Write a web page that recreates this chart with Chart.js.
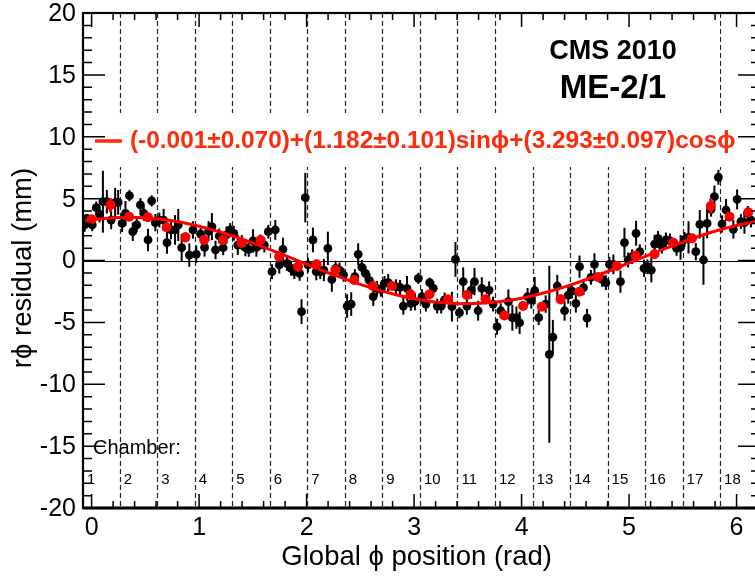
<!DOCTYPE html>
<html>
<head>
<meta charset="utf-8">
<script src="https://cdn.jsdelivr.net/npm/chart.js@4.4.1/dist/chart.umd.min.js"></script>
<style>
  html, body { margin: 0; padding: 0; background: #fff; overflow: hidden; }
  canvas { display: block; }
</style>
</head>
<body>
<canvas id="chart" width="765" height="577"></canvas>
<script>
// ===== ME-2/1 r-phi residuals vs global phi =====

// per-bin residuals (black)
const blackX = [-0.065, -0.044, 0.006, 0.043, 0.074, 0.105, 0.142, 0.182, 0.219, 0.247, 0.284, 0.315, 0.352, 0.383, 0.42, 0.454, 0.485, 0.525, 0.559, 0.593,
  0.63, 0.67, 0.701, 0.739, 0.776, 0.806, 0.838, 0.909, 0.943, 0.974, 1.014, 1.051, 1.088, 1.119, 1.153, 1.187, 1.224, 1.255, 1.289, 1.323,
  1.36, 1.397, 1.431, 1.462, 1.502, 1.533, 1.57, 1.607, 1.644, 1.678, 1.709, 1.746, 1.78, 1.817, 1.855, 1.886, 1.935, 1.953, 1.988, 2.013,
  2.059, 2.09, 2.127, 2.161, 2.198, 2.235, 2.27, 2.306, 2.344, 2.377, 2.415, 2.449, 2.48, 2.514, 2.548, 2.585, 2.62, 2.656, 2.691, 2.725,
  2.759, 2.831, 2.869, 2.9, 2.934, 2.97, 3.008, 3.04, 3.073, 3.11, 3.145, 3.179, 3.215, 3.252, 3.284, 3.352, 3.385, 3.422, 3.457, 3.491,
  3.531, 3.562, 3.596, 3.63, 3.698, 3.735, 3.772, 3.806, 3.877, 3.914, 3.952, 3.982, 4.056, 4.09, 4.122, 4.159, 4.224, 4.258, 4.291, 4.332,
  4.4, 4.434, 4.468, 4.505, 4.539, 4.576, 4.609, 4.645, 4.678, 4.749, 4.784, 4.817, 4.854, 4.92, 4.957, 4.991, 5.028, 5.065, 5.1, 5.139,
  5.17, 5.207, 5.238, 5.269, 5.306, 5.343, 5.38, 5.442, 5.479, 5.516, 5.553, 5.621, 5.658, 5.692, 5.726, 5.763, 5.794, 5.831, 5.865, 5.902,
  5.97, 6.005, 6.04, 6.073, 6.104, 6.135];
const blackY = [2.87, 3.41, 2.87, 4.27, 3.73, 4.75, 4.75, 3.27, 4.67, 4.7, 3.0, 3.81, 5.24, 2.33, 2.87, 4.49, 3.81, 1.66, 4.81, 3.06,
  3.27, 3.27, 1.44, 2.47, 2.47, 2.87, 1.04, 0.44, 2.47, 0.5, 2.14, 1.06, 2.38, 2.74, 0.85, 1.98, 1.03, 2.06, 2.47, 2.2,
  1.25, 1.45, 1.04, 0.9, 1.58, 1.06, 1.5, 1.25, 2.33, -0.9, 2.47, -0.36, 0.9, -0.23, -0.63, -0.9, -1.04, -4.14, 5.08, -0.36,
  1.66, -0.9, -0.9, -0.77, 0.98, -1.53, -0.63, -0.77, -1.17, -3.68, -3.52, -1.3, 0.5, -0.55, -1.04, -1.63, -2.92, -2.25, -2.33, -1.85,
  -1.79, -2.12, -2.17, -3.68, -2.25, -3.46, -3.33, -1.44, -2.92, -3.52, -1.79, -2.25, -3.68, -3.68, -3.19, -3.73, 0.09, -4.22, -1.71, -3.68,
  -2.39, -1.71, -4.06, -2.25, -2.39, -3.52, -5.35, -4.06, -3.33, -4.62, -4.62, -5.03, -2.92, -3.19, -2.44, -4.62, -3.52, -7.58, -6.2, -2.06,
  -4.06, -2.79, -2.47, -3.46, -0.5, -2.2, -4.66, -1.36, -0.31, -1.52, -1.79, -0.31, -0.31, -1.71, 1.44, 0.04, 0.31, 2.2, 0.71, -0.63,
  -0.5, -0.77, 1.33, 1.79, 1.17, 1.66, 1.58, 0.98, 1.06, 1.71, 1.87, 0.71, 2.92, 0.04, 3.0, 4.14, 5.16, 6.72, 2.95, 4.08,
  2.52, 4.94, 3.14, 3.06, 3.81, 3.27];
const blackErr = [0.55, 0.35, 0.5, 0.5, 0.65, 2.5, 0.95, 0.75, 1.2, 1.0, 0.7, 1.0, 0.45, 0.75, 0.55, 0.55, 0.6, 0.9, 0.45, 0.7,
  0.6, 0.9, 0.9, 0.75, 1.2, 1.3, 1.1, 0.95, 0.7, 0.7, 0.5, 0.75, 0.8, 1.1, 0.75, 0.6, 0.6, 0.7, 0.55, 0.6,
  0.8, 0.6, 0.7, 0.6, 0.95, 0.75, 0.6, 0.6, 0.55, 0.6, 0.8, 0.7, 0.95, 0.6, 0.6, 0.6, 0.6, 1.0, 2.0, 0.6,
  1.0, 0.7, 0.6, 0.9, 1.35, 1.0, 0.6, 0.6, 0.55, 0.95, 0.95, 0.6, 0.9, 0.6, 0.6, 0.6, 0.75, 0.6, 0.6, 0.6,
  0.7, 0.6, 0.6, 0.7, 1.0, 0.6, 0.7, 0.45, 0.6, 0.6, 0.4, 0.6, 0.6, 0.6, 0.6, 1.2, 1.4, 0.45, 1.15, 0.7,
  0.7, 1.1, 0.8, 0.9, 0.7, 0.6, 0.65, 0.6, 1.0, 1.05, 0.9, 0.9, 0.7, 0.7, 1.1, 0.6, 0.7, 7.15, 1.4, 0.9,
  0.8, 0.7, 0.6, 0.75, 0.9, 0.6, 0.75, 0.6, 0.9, 0.6, 0.6, 0.6, 0.8, 0.9, 1.2, 0.6, 0.6, 1.0, 0.6, 0.7,
  0.6, 1.0, 0.75, 0.6, 0.6, 0.6, 0.6, 0.6, 1.0, 0.6, 1.3, 0.7, 1.15, 2.0, 1.2, 0.6, 0.9, 0.6, 0.7, 0.9,
  0.75, 0.8, 0.6, 0.9, 0.6, 0.6];

// averaged residuals (red)
const redX = [0.0, 0.175, 0.349, 0.524, 0.698, 0.873, 1.047, 1.222, 1.396, 1.571, 1.745, 1.92, 2.094, 2.269, 2.443, 2.618, 2.793, 2.967,
  3.142, 3.316, 3.491, 3.665, 3.84, 4.014, 4.189, 4.363, 4.538, 4.712, 4.887, 5.061, 5.236, 5.411, 5.585, 5.76, 5.934, 6.109];
const redY = [3.33, 4.49, 3.54, 3.49, 2.68, 1.87, 1.66, 1.66, 1.42, 1.66, 0.31, -0.5, -0.31, -0.77, -1.58, -2.06, -2.06, -2.74,
  -2.74, -3.14, -2.79, -3.14, -4.44, -3.68, -3.73, -3.14, -2.52, -1.33, -0.44, 0.39, 0.5, 1.44, 1.79, 4.41, 3.54, 3.89];
const redErr = [0.3, 0.55, 0.3, 0.3, 0.35, 0.4, 0.35, 0.3, 0.3, 0.3, 0.35, 0.3, 0.3, 0.35, 0.3, 0.3, 0.3, 0.35,
  0.3, 0.35, 0.35, 0.35, 0.35, 0.3, 0.35, 0.4, 0.35, 0.3, 0.35, 0.3, 0.35, 0.3, 0.35, 0.6, 0.35, 0.35];

// fit curve
const fitX = [-0.06, 0, 0.25, 0.5, 0.75, 1.0, 1.25, 1.5, 1.75, 2.0, 2.25, 2.5, 2.75, 3.0, 3.25, 3.5, 3.75, 4.0, 4.25, 4.5, 4.75,
  5.0, 5.25, 5.5, 5.75, 6.0, 6.25];
const fitY = [3.22, 3.29, 3.48, 3.46, 3.22, 2.77, 2.16, 1.41, 0.58, -0.30, -1.15, -1.93, -2.59, -3.09, -3.40, -3.50, -3.38, -3.05, -2.53, -1.85, -1.06,
  -0.20, 0.67, 1.50, 2.24, 2.83, 3.25];
const fitLabel = '(-0.001\u00b10.070)+(1.182\u00b10.101)sin\u03d5+(3.293\u00b10.097)cos\u03d5';

// chamber boundaries (left edge of each chamber, rad)
const chamberEdges = [-0.262, 0.262, 0.611, 0.960, 1.309, 1.658, 2.007, 2.356, 2.705, 3.054, 3.403, 3.752, 4.102, 4.451, 4.800, 5.149, 5.498, 5.847];
const chamberNames = ['1', '2', '3', '4', '5', '6', '7', '8', '9', '10', '11', '12', '13', '14', '15', '16', '17', '18'];

const xTickValues = [0, 1, 2, 3, 4, 5, 6];
const xTickLabels = ['0', '1', '2', '3', '4', '5', '6'];
const yTickValues = [-20, -15, -10, -5, 0, 5, 10, 15, 20];
const yTickLabels = ['-20', '-15', '-10', '-5', '0', '5', '10', '15', '20'];

const RED = '#ff0000';
const TEXT_RED = '#ff2a0a';
const FONT = '"Liberation Sans", Arial, Helvetica, sans-serif';

const toPts = (xs, ys) => xs.map((x, i) => ({ x, y: ys[i] }));

// ---- plugin: boundaries, error bars, frame, ticks, labels ----
const rootStyle = {
  id: 'rootStyle',
  beforeDatasetsDraw(chart) {
    const { ctx, chartArea: a, scales: { x, y } } = chart;
    ctx.save();
    // chamber boundaries
    ctx.strokeStyle = '#222';
    ctx.lineWidth = 1.2;
    ctx.setLineDash([5, 3]);
    for (const e of chamberEdges) {
      const px = Math.round(x.getPixelForValue(e)) + 0.5;
      if (px <= a.left + 2) continue;
      ctx.beginPath();
      ctx.moveTo(px, a.top);
      ctx.lineTo(px, a.bottom);
      ctx.stroke();
    }
    ctx.setLineDash([]);
    // text boxes (white fill, cover the boundaries)
    ctx.fillStyle = '#fff';
    ctx.fillRect(498, a.top + 1, 222, 100);
    ctx.fillRect(a.left + 1, 113, a.right - a.left - 2, 54);
    // zero line
    const y0 = Math.round(y.getPixelForValue(0)) + 0.5;
    ctx.strokeStyle = '#000';
    ctx.lineWidth = 1;
    ctx.beginPath();
    ctx.moveTo(a.left, y0);
    ctx.lineTo(a.right, y0);
    ctx.stroke();
    ctx.restore();
  },
  beforeDatasetDraw(chart, args) {
    const ds = chart.data.datasets[args.index];
    if (!ds.errors) return;
    const { ctx, chartArea: a, scales: { x, y } } = chart;
    ctx.save();
    ctx.beginPath();
    ctx.rect(a.left, a.top, a.right - a.left, a.bottom - a.top);
    ctx.clip();
    ctx.strokeStyle = ds.backgroundColor;
    ctx.lineWidth = ds.errorWidth;
    ds.data.forEach((p, i) => {
      const px = x.getPixelForValue(p.x);
      ctx.beginPath();
      ctx.moveTo(px, y.getPixelForValue(p.y + ds.errors[i]));
      ctx.lineTo(px, y.getPixelForValue(p.y - ds.errors[i]));
      ctx.stroke();
    });
    ctx.restore();
  },
  afterDraw(chart) {
    const { ctx, chartArea: a, scales: { x, y } } = chart;
    ctx.save();
    ctx.strokeStyle = '#000';
    ctx.fillStyle = '#000';

    // ticks
    ctx.lineWidth = 1.5;
    for (let i = 0; i <= 31; i++) {
      const px = x.getPixelForValue(i / 5);
      const len = i % 5 === 0 ? 14 : 7;
      ctx.beginPath();
      ctx.moveTo(px, a.bottom); ctx.lineTo(px, a.bottom - len);
      ctx.moveTo(px, a.top); ctx.lineTo(px, a.top + len);
      ctx.stroke();
    }
    for (let v = -20; v <= 20; v++) {
      const py = y.getPixelForValue(v);
      const len = v % 5 === 0 ? 22 : 9;
      ctx.beginPath();
      ctx.moveTo(a.left, py); ctx.lineTo(a.left + len, py);
      ctx.moveTo(a.right, py); ctx.lineTo(a.right - len, py);
      ctx.stroke();
    }

    // frame
    ctx.lineWidth = 2.2;
    ctx.strokeRect(a.left, a.top, a.right - a.left, a.bottom - a.top);
    ctx.lineWidth = 3;
    ctx.beginPath();
    ctx.moveTo(a.left, a.bottom); ctx.lineTo(a.right, a.bottom);
    ctx.stroke();

    // tick labels
    ctx.font = `25px ${FONT}`;
    ctx.textAlign = 'center';
    ctx.textBaseline = 'middle';
    xTickValues.forEach((v, i) => ctx.fillText(xTickLabels[i], x.getPixelForValue(v), a.bottom + 20));
    ctx.textAlign = 'right';
    yTickValues.forEach((v, i) => ctx.fillText(yTickLabels[i], a.left - 7, y.getPixelForValue(v) + 1));

    // axis titles
    ctx.font = `27.5px ${FONT}`;
    ctx.textAlign = 'right';
    ctx.fillText('Global \u03d5 position (rad)', a.right - 208, 557);
    ctx.save();
    ctx.translate(23, 268);
    ctx.rotate(-Math.PI / 2);
    ctx.textAlign = 'center';
    ctx.fillText('r\u03d5 residual (mm)', 0, 0);
    ctx.restore();

    // chamber labels
    ctx.textAlign = 'left';
    ctx.font = `20px ${FONT}`;
    ctx.fillText('Chamber:', 93, 448);
    ctx.font = `15px ${FONT}`;
    chamberEdges.forEach((e, i) => {
      const px = Math.max(x.getPixelForValue(e), a.left) + 4;
      ctx.fillText(chamberNames[i], px, 480);
    });

    // CMS label
    ctx.textAlign = 'center';
    ctx.font = `bold 27px ${FONT}`;
    ctx.fillText('CMS 2010', 613, 52);
    ctx.font = `bold 33px ${FONT}`;
    ctx.fillText('ME-2/1', 613, 89);

    // fit legend
    ctx.strokeStyle = TEXT_RED;
    ctx.lineWidth = 3.5;
    ctx.beginPath();
    ctx.moveTo(95, 141); ctx.lineTo(122, 141);
    ctx.stroke();
    ctx.fillStyle = TEXT_RED;
    ctx.textAlign = 'left';
    ctx.font = `bold 24.4px ${FONT}`;
    ctx.fillText(fitLabel, 130, 141);
    ctx.restore();
  }
};

new Chart(document.getElementById('chart'), {
  type: 'scatter',
  data: {
    datasets: [
      {
        label: 'residuals',
        data: toPts(blackX, blackY),
        errors: blackErr,
        errorWidth: 2,
        backgroundColor: '#000',
        borderColor: '#000',
        pointRadius: 4.4,
        pointBorderWidth: 0,
        order: 3,
      },
      {
        label: 'fit',
        data: toPts(fitX, fitY),
        showLine: true,
        borderColor: RED,
        borderWidth: 3,
        pointRadius: 0,
        tension: 0.4,
        fill: false,
        order: 2,
      },
      {
        label: 'average',
        data: toPts(redX, redY),
        errors: redErr,
        errorWidth: 3,
        backgroundColor: RED,
        borderColor: RED,
        pointRadius: 5,
        pointBorderWidth: 0,
        order: 1,
      },
    ],
  },
  options: {
    responsive: false,
    devicePixelRatio: 1,
    animation: false,
    layout: { padding: { left: 83, top: 13, right: 3, bottom: 69 } },
    scales: {
      x: { type: 'linear', min: -0.08, max: 6.218, display: false },
      y: { type: 'linear', min: -20, max: 20, display: false },
    },
    plugins: {
      legend: { display: false },
      tooltip: { enabled: false },
    },
  },
  plugins: [rootStyle],
});
</script>
</body>
</html>
